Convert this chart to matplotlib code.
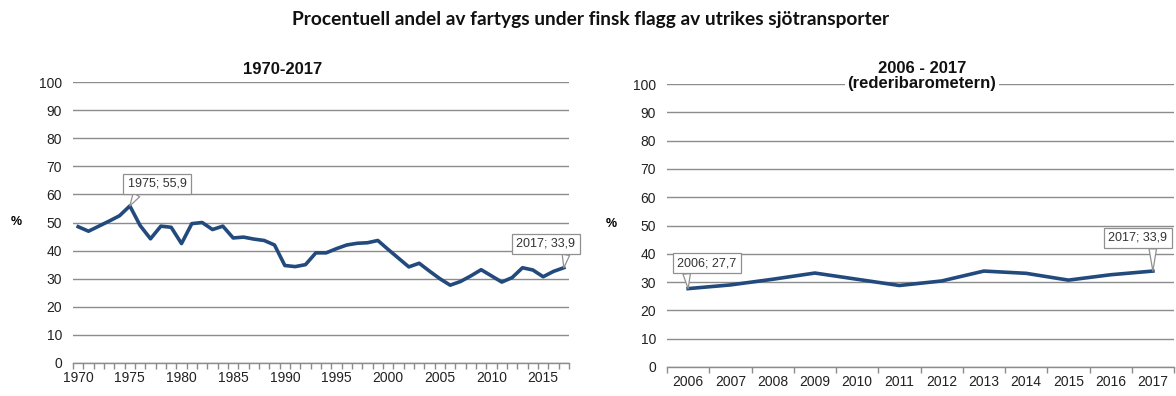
import numpy as np
import matplotlib
matplotlib.use("Agg")
import matplotlib.pyplot as plt

# ---- data ----
years_all = list(range(1970, 2018))
share_all = [48.5, 46.9, 48.7, 50.5, 52.4, 55.9, 48.9, 44.2, 48.7, 48.3,
             42.5, 49.6, 50.0, 47.5, 48.7, 44.5, 44.8, 44.1, 43.6, 42.0,
             34.7, 34.3, 35.0, 39.2, 39.2, 40.7, 42.0, 42.6, 42.8, 43.6,
             40.4, 37.3, 34.2, 35.5, 32.7, 30.0, 27.7, 29.0, 31.0, 33.2,
             31.0, 28.8, 30.4, 33.9, 33.1, 30.7, 32.6, 33.9]
years_rb = list(range(2006, 2018))
share_rb = [27.7, 29.0, 31.0, 33.2, 31.0, 28.8, 30.4, 33.9, 33.1, 30.7, 32.6, 33.9]
yticks = list(range(0, 101, 10))
left_xlabels = [1970, 1975, 1980, 1985, 1990, 1995, 2000, 2005, 2010, 2015]

main_title = "Procentuell andel av fartygs under finsk flagg av utrikes sjötransporter"
left_title = "1970-2017"
right_title = "2006 - 2017\n(rederibarometern)"

LINE = "#234A7D"
GRID = "#8C8C8C"
W, H = 1176, 396

plt.rcParams['font.family'] = ['Liberation Sans', 'DejaVu Sans']
fig = plt.figure(figsize=(W / 100, H / 100), dpi=100)

def px_axes(x0, x1, ytop, ybot):
    return fig.add_axes([x0 / W, 1 - ybot / H, (x1 - x0) / W, (ybot - ytop) / H])

def style(ax, xmin, xmax, majors):
    ax.set_ylim(0, 100)
    ax.set_xlim(xmin - 0.5, xmax + 0.5)
    ax.set_yticks(yticks)
    ax.yaxis.grid(True, color=GRID, linewidth=1.0)
    ax.set_axisbelow(True)
    for s in ['top', 'right', 'left']:
        ax.spines[s].set_visible(False)
    ax.spines['bottom'].set_color(GRID)
    ax.spines['bottom'].set_linewidth(1.0)
    ax.tick_params(axis='y', length=0, labelsize=10, colors='#222222', pad=8)
    ax.set_xticks(majors)
    ax.set_xticklabels([str(m) for m in majors])
    ax.tick_params(axis='x', which='major', length=0, labelsize=10, colors='#222222', pad=6)
    ax.set_xticks(np.arange(xmin - 0.5, xmax + 1.0, 1.0), minor=True)
    ax.tick_params(axis='x', which='minor', length=4, color=GRID, width=1.0)

# left chart
axL = px_axes(73, 569, 82, 363)
axL.plot(years_all, share_all, color=LINE, linewidth=2.6, solid_joinstyle='round', zorder=3)
style(axL, years_all[0], years_all[-1], left_xlabels)

# right chart
axR = px_axes(667, 1174, 84, 367)
axR.plot(years_rb, share_rb, color=LINE, linewidth=2.6, solid_joinstyle='round', zorder=3)
style(axR, years_rb[0], years_rb[-1], years_rb)

# titles
fig.text(591 / W, 1 - 19 / H, main_title, ha='center', va='center',
         fontsize=13.8, fontweight='bold', family=['Lato', 'DejaVu Sans'], color='#111111')
fig.text(283 / W, 1 - 70 / H, left_title, ha='center', va='center',
         fontsize=12, fontweight='bold', color='#111111')
fig.text(922 / W, 1 - 76 / H, right_title, ha='center', va='center',
         fontsize=12, fontweight='bold', color='#111111', linespacing=0.95,
         bbox=dict(boxstyle='square,pad=0.15', fc='white', ec='none'))
fig.text(16 / W, 1 - 222 / H, "%", ha='center', va='center', fontsize=9, fontweight='bold')
fig.text(611 / W, 1 - 224 / H, "%", ha='center', va='center', fontsize=9, fontweight='bold')

def callout(ax, x, y, text, cx, cy, relpos):
    ax.annotate(text, xy=(x, y), xycoords='data',
                xytext=(cx, H - cy), textcoords='figure pixels',
                ha='center', va='center', fontsize=9, color='#333333',
                bbox=dict(boxstyle='square,pad=0.35', fc='white', ec='#909090', lw=0.9),
                arrowprops=dict(arrowstyle='wedge,tail_width=0.6,shrink_factor=0.5',
                                fc='white', ec='#909090', lw=0.9, relpos=relpos,
                                shrinkA=0, shrinkB=0),
                zorder=5, annotation_clip=False)

i75 = years_all.index(1975)
callout(axL, years_all[i75], share_all[i75], f"1975; {share_all[i75]:.1f}".replace('.', ','), 157, 184, (0.2, 0.0))
callout(axL, years_all[-1], share_all[-1], f"2017; {share_all[-1]:.1f}".replace('.', ','), 546, 244, (0.85, 0.0))
callout(axR, years_rb[0], share_rb[0], f"2006; {share_rb[0]:.1f}".replace('.', ','), 707, 263, (0.15, 0.0))
callout(axR, years_rb[-1], share_rb[-1], f"2017; {share_rb[-1]:.1f}".replace('.', ','), 1138, 238, (0.75, 0.0))

fig.savefig("out.png", dpi=100)
